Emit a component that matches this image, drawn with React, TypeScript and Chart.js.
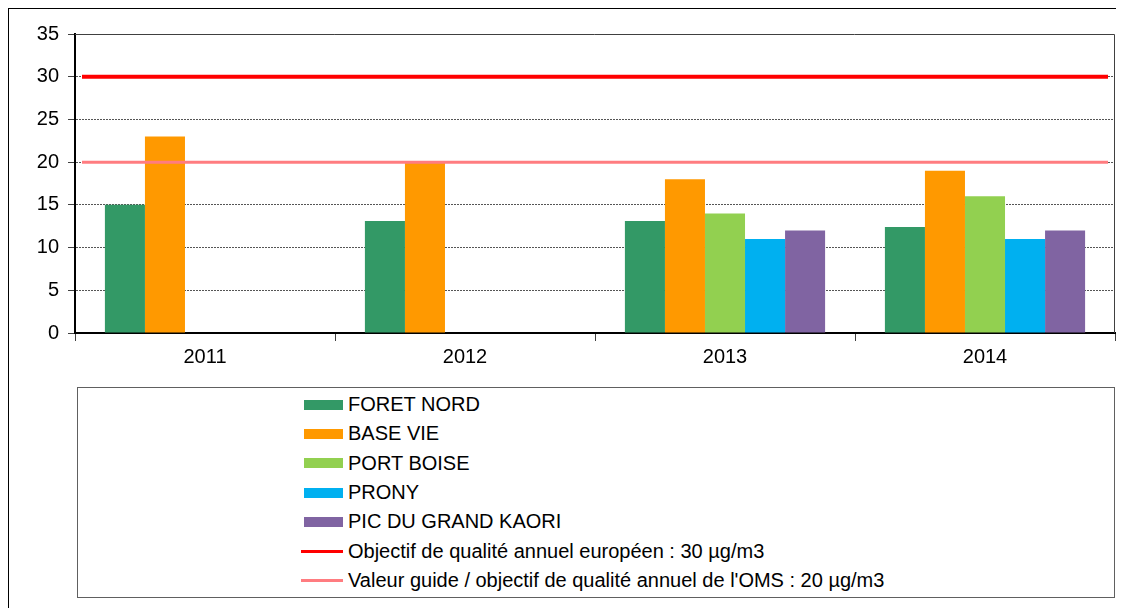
import React, { useEffect, useRef, useState } from 'react';
import { Chart, registerables } from 'chart.js';

Chart.register(...registerables);

const years = ['2011', '2012', '2013', '2014'];
const foretNord = [15, 13.1, 13.1, 12.4];
const baseVie = [23, 20, 18, 19];
const portBoise = [null, null, 14, 16];
const prony = [null, null, 11, 11];
const picDuGrandKaori = [null, null, 12, 12];
const objectifEuropeen = 30;
const valeurGuideOMS = 20;
const yMin = 0;
const yMax = 35;
const yStep = 5;

const seuils = [
  { label: 'Objectif de qualité annuel européen : 30 µg/m3', value: objectifEuropeen, color: '#FF0000', width: 4 },
  { label: "Valeur guide / objectif de qualité annuel de l'OMS : 20 µg/m3", value: valeurGuideOMS, color: '#FF7C80', width: 3 },
];

const FONT = "'Liberation Sans', Arial, Helvetica, sans-serif";

const framePlugin = {
  id: 'frame',
  beforeDatasetsDraw(chart: any) {
    const { ctx, chartArea } = chart;
    ctx.save();
    ctx.strokeStyle = '#404040';
    ctx.lineWidth = 1;
    ctx.beginPath();
    ctx.moveTo(chartArea.left, chartArea.top + 0.5);
    ctx.lineTo(chartArea.right - 0.5, chartArea.top + 0.5);
    ctx.lineTo(chartArea.right - 0.5, chartArea.bottom);
    ctx.stroke();
    ctx.restore();
  },
};

const seuilPlugin = {
  id: 'seuils',
  afterDatasetsDraw(chart: any) {
    const { ctx, chartArea, scales } = chart;
    const inset = 7;
    ctx.save();
    for (const s of seuils) {
      const y = scales.y.getPixelForValue(s.value);
      ctx.strokeStyle = s.color;
      ctx.lineWidth = s.width;
      ctx.beginPath();
      ctx.moveTo(chartArea.left + inset, y);
      ctx.lineTo(chartArea.right - inset, y);
      ctx.stroke();
    }
    ctx.restore();
  },
};

export default function App() {
  const ref = useRef<HTMLCanvasElement>(null);
  const [items, setItems] = useState<any[]>([]);

  useEffect(() => {
    const barDs = (label: string, data: any[], color: string) => ({
      label,
      data,
      backgroundColor: color,
      borderWidth: 0,
    });

    const chart = new Chart(ref.current!, {
      type: 'bar',
      data: {
        labels: years,
        datasets: [
          barDs('FORET NORD', foretNord, '#339966'),
          barDs('BASE VIE', baseVie, '#FF9900'),
          barDs('PORT BOISE', portBoise, '#92D050'),
          barDs('PRONY', prony, '#00B0F0'),
          barDs('PIC DU GRAND KAORI', picDuGrandKaori, '#8064A2'),
        ] as any,
      },
      options: {
        animation: false,
        responsive: false,
        maintainAspectRatio: false,
        layout: { padding: { top: 25, right: 4, left: 0, bottom: 0 } },
        datasets: {
          bar: { categoryPercentage: 0.77, barPercentage: 1 },
        },
        plugins: {
          legend: { display: false },
          tooltip: { enabled: false },
        },
        scales: {
          x: {
            type: 'category',
            offset: true,
            grid: {
              offset: true,
              drawOnChartArea: false,
              drawTicks: true,
              tickLength: 8,
              tickColor: '#404040',
            },
            border: { display: true, color: '#000', width: 2 },
            ticks: {
              padding: 4,
              color: '#000',
              font: { family: FONT, size: 20 },
            },
            afterFit: (s: any) => {
              s.height = 48;
              s.paddingLeft = 0;
              s.paddingRight = 0;
            },
          },
          y: {
            min: yMin,
            max: yMax,
            ticks: {
              stepSize: yStep,
              padding: 9,
              color: '#000',
              font: { family: FONT, size: 20 },
            },
            grid: {
              color: (c: any) =>
                c.tick && (c.tick.value === yMin || c.tick.value === yMax) ? 'rgba(0,0,0,0)' : '#555',
              lineWidth: 1,
              drawTicks: true,
              tickLength: 7,
              tickColor: '#404040',
              tickBorderDash: [],
            },
            border: { display: true, color: '#000', width: 2, dash: [2, 1] },
            afterFit: (s: any) => {
              s.width = 66;
              s.paddingTop = 0;
              s.paddingBottom = 0;
            },
          },
        } as any,
      },
      plugins: [framePlugin, seuilPlugin],
    } as any);

    const gen = (Chart as any).defaults.plugins.legend.labels.generateLabels(chart);
    const list = gen
      .slice()
      .sort((a: any, b: any) => a.datasetIndex - b.datasetIndex)
      .map((l: any) => {
        const ds: any = chart.data.datasets[l.datasetIndex];
        return { text: l.text, color: ds.backgroundColor, line: false, width: 0 };
      })
      .concat(seuils.map((s) => ({ text: s.label, color: s.color, line: true, width: 3 })));
    setItems(list);

    return () => chart.destroy();
  }, []);

  return (
    <div
      style={{
        position: 'relative',
        width: 1120,
        height: 600,
        borderLeft: '1px solid #000',
        borderTop: '1px solid #000',
        boxSizing: 'border-box',
      }}
    >
      <canvas
        ref={ref}
        width={1110}
        height={372}
        style={{ position: 'absolute', left: 0, top: 0, width: 1110, height: 372 }}
      />
      <div
        style={{
          position: 'absolute',
          left: 68,
          top: 378,
          width: 1038,
          height: 211,
          border: '1px solid #606060',
          boxSizing: 'border-box',
          paddingTop: 2,
          paddingLeft: 226,
          fontFamily: FONT,
          fontSize: 20,
          color: '#000',
        }}
      >
        {items.map((it, i) => (
          <div key={i} style={{ height: 29.3, display: 'flex', alignItems: 'center', whiteSpace: 'nowrap' }}>
            <span
              style={{
                display: 'inline-block',
                flex: 'none',
                width: it.line ? 42 : 39,
                marginLeft: it.line ? -3 : 0,
                height: it.line ? it.width : 10,
                background: it.color,
                marginRight: 5,
              }}
            />
            <span>{it.text}</span>
          </div>
        ))}
      </div>
    </div>
  );
}
